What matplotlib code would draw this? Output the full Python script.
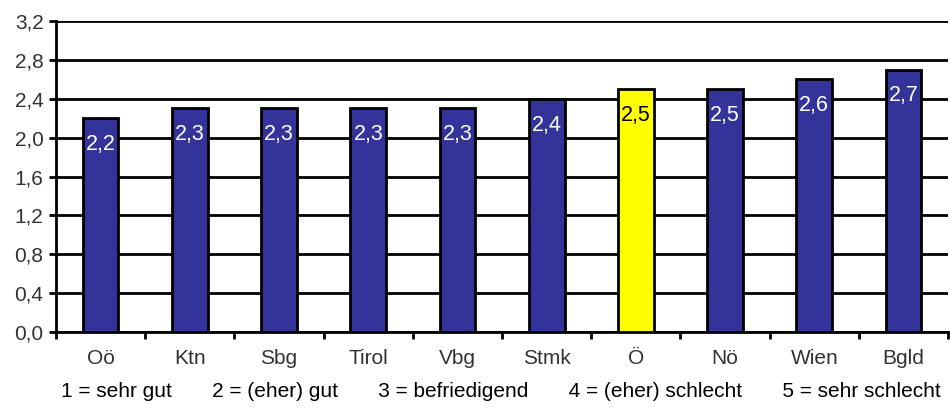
import matplotlib.pyplot as plt
import numpy as np

plt.rcParams['font.family'] = ['Liberation Sans', 'DejaVu Sans']

regions = ['Oö', 'Ktn', 'Sbg', 'Tirol', 'Vbg', 'Stmk', 'Ö', 'Nö', 'Wien', 'Bgld']
scores = [2.2, 2.3, 2.3, 2.3, 2.3, 2.4, 2.5, 2.5, 2.6, 2.7]
highlight = 'Ö'
yticks = [0.0, 0.4, 0.8, 1.2, 1.6, 2.0, 2.4, 2.8, 3.2]
scale_note = ['1 = sehr gut', '2 = (eher) gut', '3 = befriedigend',
              '4 = (eher) schlecht', '5 = sehr schlecht']

fig = plt.figure(figsize=(9.5, 4.12), dpi=100)
ax = fig.add_axes([0.059, 0.194, 0.939, 0.755])

x = np.arange(len(regions))
colors = ['#FFFF00' if r == highlight else '#333399' for r in regions]
ax.bar(x, scores, width=0.4, color=colors, edgecolor='black', linewidth=2, zorder=3)

# value labels inside the bar tops
for xi, val, r in zip(x, scores, regions):
    tc = 'black' if r == highlight else 'white'
    ax.text(xi, val - 0.27, f'{val:.1f}'.replace('.', ','), ha='center', va='center',
            color=tc, fontsize=15.5, zorder=4)

ax.set_ylim(0, 3.2)
ax.set_xlim(-0.5, len(regions) - 0.5)
ax.set_yticks(yticks)
ax.set_yticklabels([f'{t:.1f}'.replace('.', ',') for t in yticks], fontsize=15, color='#333333')
ax.yaxis.grid(True, color='black', linewidth=2, zorder=0)

ax.set_xticks(x)
ax.set_xticklabels(regions, fontsize=15, color='#333333')
ax.tick_params(axis='x', length=0, pad=12)
ax.set_xticks(np.arange(len(regions) + 1) - 0.5, minor=True)
ax.tick_params(axis='x', which='minor', length=5, width=2, direction='out')
ax.tick_params(axis='y', length=5, width=2, direction='out', pad=4)

for s in ['top', 'right']:
    ax.spines[s].set_visible(False)
for s in ['left', 'bottom']:
    ax.spines[s].set_linewidth(2)

fig.text(0.527, 0.049, '       '.join(scale_note), ha='center', va='center',
         fontsize=15, color='black')

fig.savefig('out.png', dpi=100)
